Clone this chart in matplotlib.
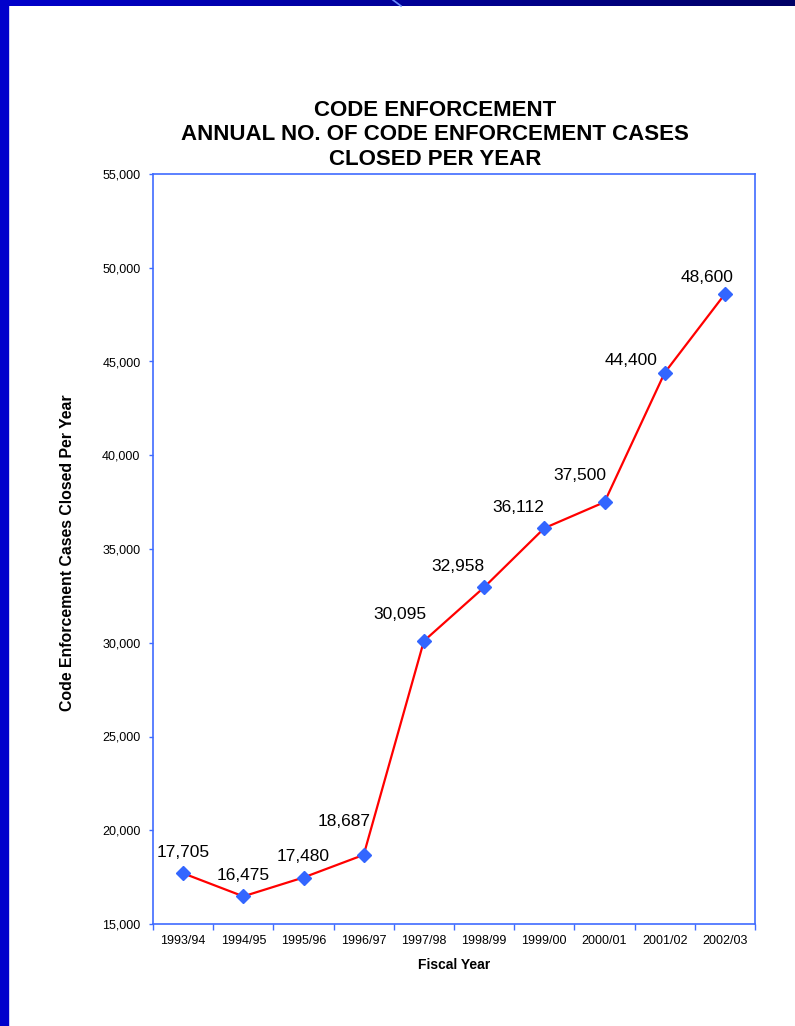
import matplotlib.pyplot as plt
import numpy as np
from matplotlib.patches import Rectangle
from matplotlib.lines import Line2D

plt.rcParams['font.family'] = ['Liberation Sans', 'DejaVu Sans']

years = ['1993/94', '1994/95', '1995/96', '1996/97', '1997/98',
         '1998/99', '1999/00', '2000/01', '2001/02', '2002/03']
cases = [17705, 16475, 17480, 18687, 30095, 32958, 36112, 37500, 44400, 48600]
y_ticks = [15000, 20000, 25000, 30000, 35000, 40000, 45000, 50000, 55000]

# label offsets in points (dx, dy) from each marker
label_offsets = [(0, 15), (0, 15), (0, 15), (-14, 24), (-17, 19),
                 (-19, 15), (-19, 15), (-18, 19), (-24, 9), (-13, 12)]

axis_blue = '#3F6BFF'
W, H = 795, 1026

fig = plt.figure(figsize=(7.95, 10.26), dpi=100)

# slide frame: left bar and top gradient bar
fig.add_artist(Rectangle((0, 0), 8 / W, 1, transform=fig.transFigure,
                         color='#0000CC', zorder=0))
bar = fig.add_axes([0, 1 - 6 / H, 1, 6 / H])
grad = np.linspace(0, 1, 256)
c0 = np.array([0x00, 0x00, 0xCC]) / 255
c1 = np.array([0x00, 0x00, 0x66]) / 255
img = (c0[None, :] * (1 - grad[:, None]) + c1[None, :] * grad[:, None])[None, :, :]
bar.imshow(img, aspect='auto', extent=[0, 1, 0, 1])
bar.axis('off')
fig.add_artist(Line2D([393 / W, 401 / W], [1, 1 - 6 / H], transform=fig.transFigure,
                      color='#6A8CFF', lw=1.2))

ax = fig.add_axes([153 / W, 102 / H, 602 / W, 750 / H])
x = np.arange(len(years))
ax.plot(x, cases, color='#FF0000', lw=1.6, zorder=2)
ax.plot(x, cases, ls='none', marker='D', ms=7.5, color='#3366FF', zorder=3)

for xi, v, (dx, dy) in zip(x, cases, label_offsets):
    ax.annotate(f'{v:,}', (xi, v), xytext=(dx, dy), textcoords='offset points',
                ha='center', va='center', fontsize=12.5)

ax.set_xlim(-0.5, len(years) - 0.5)
ax.set_ylim(15000, 55000)
ax.set_yticks(y_ticks)
ax.set_yticklabels([f'{t:,}' for t in y_ticks], fontsize=9)
ax.set_xticks(np.arange(len(years) + 1) - 0.5)
ax.set_xticklabels([])
ax.set_xticks(x, minor=True)
ax.set_xticklabels(years, minor=True, fontsize=9)
ax.tick_params(axis='x', which='minor', length=0, pad=8)
ax.tick_params(axis='y', which='major', length=3, pad=6, color=axis_blue, width=1)
ax.tick_params(axis='x', which='major', length=4, color=axis_blue, width=1)
for s in ax.spines.values():
    s.set_color(axis_blue)
    s.set_linewidth(1.2)

fig.text(454 / W, 1 - 965 / H, 'Fiscal Year', ha='center', va='center',
         fontsize=10, fontweight='bold')
fig.text(68 / W, 1 - 553 / H, 'Code Enforcement Cases Closed Per Year',
         rotation=90, ha='center', va='center', fontsize=11.4, fontweight='bold')

fig.text(435 / W, 1 - 135 / H,
         'CODE ENFORCEMENT\nANNUAL NO. OF CODE ENFORCEMENT CASES\nCLOSED PER YEAR',
         ha='center', va='center', fontsize=16, fontweight='bold', linespacing=1.22)

fig.savefig('out.png', dpi=100)
